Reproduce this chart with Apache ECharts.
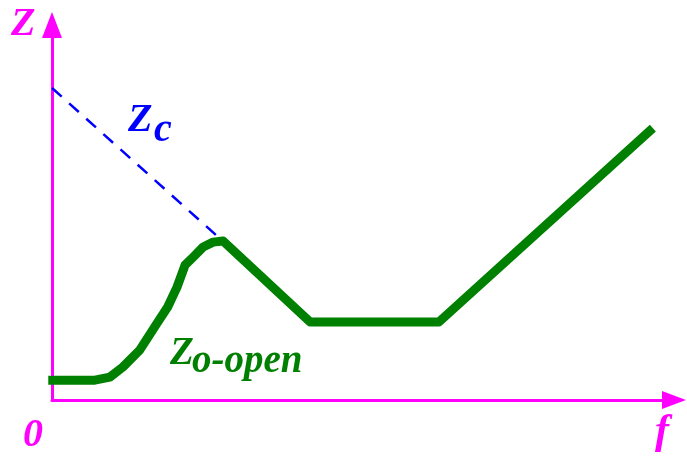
<!DOCTYPE html>
<html>
<head>
<meta charset="utf-8">
<script src="https://cdn.jsdelivr.net/npm/echarts@6/dist/echarts.min.js"></script>
<style>html,body{margin:0;padding:0;background:#fff}#c{width:687px;height:458px}</style>
</head>
<body>
<div id="c"></div>
<script>
// Z_o-open curve (f, Z) in arbitrary units
const openF = [-0.06, 0.69, 0.93, 1.14, 1.41, 1.69, 1.86, 2.01, 2.14, 2.27, 2.43, 2.59, 2.75, 4.15, 6.22, 9.66];
const openZ = [0.53, 0.53, 0.61, 0.88, 1.33, 2.05, 2.48, 3.01, 3.60, 3.81, 4.08, 4.21, 4.24, 2.08, 2.08, 7.25];
// Z_c dashed line
const zcF = [0, 2.67];
const zcZ = [8.32, 4.35];

const chart = echarts.init(document.getElementById('c'), null, {renderer: 'canvas'});
const MAG = '#FF00FF';
function txt(text, x, y, size, color) {
  return {type: 'text', x: x, y: y, style: {
    text: text, fontSize: size, fontStyle: 'italic', fontWeight: 'bold',
    fontFamily: 'Liberation Serif', fill: color, verticalAlign: 'middle', align: 'left'}};
}
chart.setOption({
  animation: false,
  backgroundColor: '#ffffff',
  grid: {left: 52, top: 25, right: 13, bottom: 58},
  xAxis: {
    type: 'value', min: 0, max: 10,
    axisLine: {show: true, onZero: false, lineStyle: {color: MAG, width: 3}, symbol: ['none', 'triangle'], symbolSize: [18, 24]},
    axisTick: {show: false}, axisLabel: {show: false}, splitLine: {show: false}
  },
  yAxis: {
    type: 'value', min: 0, max: 10,
    axisLine: {show: true, onZero: false, lineStyle: {color: MAG, width: 3}, symbol: ['none', 'triangle'], symbolSize: [20, 26]},
    axisTick: {show: false}, axisLabel: {show: false}, splitLine: {show: false}
  },
  series: [
    {
      type: 'line', data: zcF.map((f, i) => [f, zcZ[i]]), symbol: 'none', clip: false,
      lineStyle: {color: '#0000FF', width: 2.5, type: [13, 10]}, z: 2
    },
    {
      type: 'line', data: openF.map((f, i) => [f, openZ[i]]), symbol: 'none', clip: false,
      lineStyle: {color: '#008000', width: 9, join: 'round'}, z: 3
    }
  ],
  graphic: [
    txt('Z', 11, 25, 40, MAG),
    txt('0', 23, 436, 40, MAG),
    txt('f', 655, 432, 42, MAG),
    txt('Z', 128, 121, 40, '#0000FF'),
    txt('c', 154, 131, 40, '#0000FF'),
    txt('Z', 170, 354, 39, '#008000'),
    txt('o-open', 192, 362, 39, '#008000')
  ]
});
</script>
</body>
</html>
